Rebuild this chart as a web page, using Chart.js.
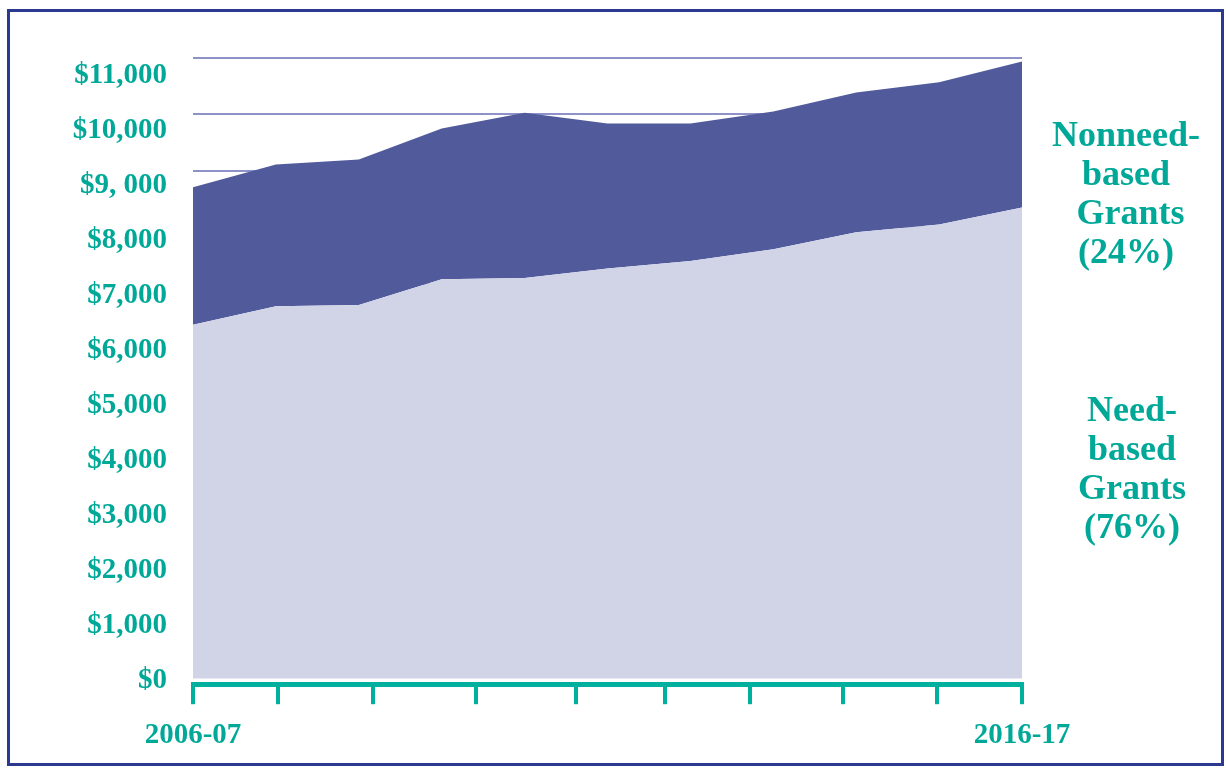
<!DOCTYPE html>
<html>
<head>
<meta charset="utf-8">
<script src="https://cdn.jsdelivr.net/npm/chart.js@4"></script>
<style>
    html, body { margin: 0; padding: 0; background: #ffffff; }
    #wrap { position: relative; width: 1226px; height: 769px; overflow: hidden; }
    #frame {
        position: absolute; left: 7px; top: 9px; width: 1211px; height: 751px;
        border: 3px solid #2b3990; box-sizing: content-box;
    }
    #chart { position: absolute; left: 0; top: 0; }
    .series-label {
        position: absolute; width: 200px; text-align: center;
        font-family: 'Liberation Serif', 'Times New Roman', serif;
        font-weight: bold; font-size: 36px; line-height: 39px; color: #00a898;
    }
</style>
</head>
<body>
<div id="wrap">
    <div id="frame"></div>
    <canvas id="chart" width="1226" height="769"></canvas>
    <div class="series-label" style="left:1026px; top:115px;">Nonneed-<br>based<br>&nbsp;Grants<br>(24%)</div>
    <div class="series-label" style="left:1032px; top:390px;">Need-<br>based<br>Grants<br>(76%)</div>
</div>
<script>
const years = ['2006-07', '2007-08', '2008-09', '2009-10', '2010-11', '2011-12',
               '2012-13', '2013-14', '2014-15', '2015-16', '2016-17'];

// dollars per student
const needBased = [6270, 6600, 6620, 7080, 7100, 7270, 7400, 7610, 7910, 8050, 8350];
const nonneedBased = [2440, 2510, 2580, 2670, 2930, 2570, 2440, 2440, 2480, 2520, 2590];

const yTickValues = [0, 1000, 2000, 3000, 4000, 5000, 6000, 7000, 8000, 9000, 10000, 11000];
const yTickLabels = ['$0', '$1,000', '$2,000', '$3,000', '$4,000', '$5,000', '$6,000',
                     '$7,000', '$8,000', '$9, 000', '$10,000', '$11,000'];

// tick marks on the year axis are not evenly spaced in the original
const xTickPositions = [0, 1.02, 2.17, 3.41, 4.62, 5.69, 6.72, 7.84, 8.97, 10];

const TEAL = '#00a898';
const AXIS_TEAL = '#00b09e';
const labelFont = { family: "'Liberation Serif', 'Times New Roman', serif", weight: 'bold', size: 29 };

const ctx = document.getElementById('chart').getContext('2d');
new Chart(ctx, {
    type: 'line',
    data: {
        datasets: [{
            label: 'Need-based Grants',
            data: needBased.map((v, i) => ({ x: i, y: v })),
            backgroundColor: '#d1d3e7',
            borderWidth: 0,
            pointRadius: 0,
            fill: 'origin',
            tension: 0
        }, {
            label: 'Nonneed-based Grants',
            data: nonneedBased.map((v, i) => ({ x: i, y: v })),
            backgroundColor: '#515b9c',
            borderWidth: 0,
            pointRadius: 0,
            fill: '-1',
            tension: 0
        }]
    },
    options: {
        responsive: false,
        animation: false,
        layout: { padding: { left: 73, right: 204, top: 58, bottom: 2 } },
        plugins: {
            legend: { display: false },
            tooltip: { enabled: false }
        },
        scales: {
            x: {
                type: 'linear',
                min: 0,
                max: 10,
                afterBuildTicks: (scale) => {
                    scale.ticks = xTickPositions.map(v => ({ value: v }));
                },
                grid: {
                    drawOnChartArea: false,
                    tickLength: 20,
                    lineWidth: 4,
                    color: AXIS_TEAL
                },
                border: { display: true, width: 5, color: AXIS_TEAL },
                ticks: {
                    autoSkip: false,
                    maxRotation: 0,
                    padding: 14,
                    color: TEAL,
                    font: labelFont,
                    callback: (value) => value === 0 ? years[0] : (value === 10 ? years[years.length - 1] : '')
                }
            },
            y: {
                stacked: true,
                min: -100,
                max: 11000,
                afterBuildTicks: (scale) => {
                    scale.ticks = yTickValues.map(v => ({ value: v }));
                },
                grid: {
                    color: (c) => c.tick && c.tick.value === 0 ? 'rgba(0,0,0,0)' : '#8f91c9',
                    lineWidth: 2,
                    drawTicks: false
                },
                border: { display: false },
                ticks: { display: false }
            },
            yLabels: {
                position: 'left',
                min: -67,
                max: 11327,
                afterBuildTicks: (scale) => {
                    scale.ticks = yTickValues.map(v => ({ value: v }));
                },
                afterFit: (scale) => { scale.width = 120; },
                grid: { display: false, drawTicks: false },
                border: { display: false },
                ticks: {
                    padding: 26,
                    color: TEAL,
                    font: labelFont,
                    callback: (value, i) => yTickLabels[i]
                }
            }
        }
    }
});
</script>
</body>
</html>
